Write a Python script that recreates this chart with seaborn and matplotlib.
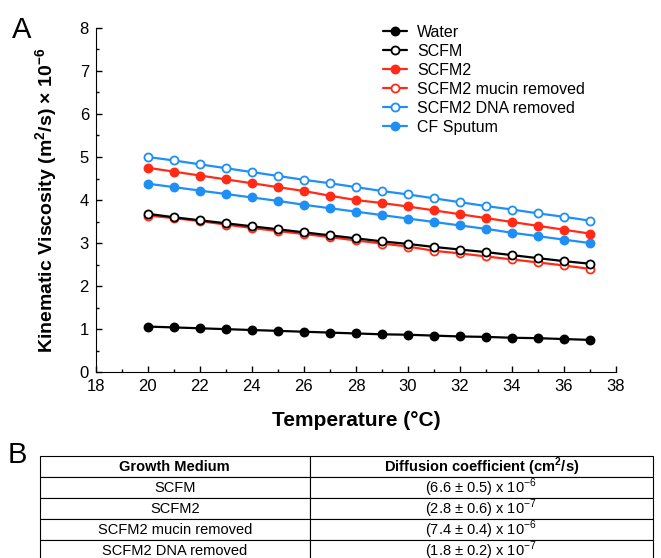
import numpy as np
import pandas as pd
import seaborn as sns
import matplotlib.pyplot as plt
from matplotlib.ticker import MultipleLocator

sns.set_style('ticks')
plt.rcParams['font.family'] = ['Liberation Sans', 'DejaVu Sans']
plt.rcParams['mathtext.fontset'] = 'custom'
plt.rcParams['mathtext.rm'] = 'Liberation Sans'
plt.rcParams['mathtext.bf'] = 'Liberation Sans:bold'
for k in ['text.color', 'axes.labelcolor', 'xtick.color', 'ytick.color', 'axes.edgecolor']:
    plt.rcParams[k] = 'black'

temps = list(range(20, 38))

water = [1.06, 1.04, 1.02, 1.00, 0.98, 0.96, 0.94, 0.92, 0.90,
         0.88, 0.87, 0.85, 0.83, 0.82, 0.80, 0.79, 0.77, 0.75]
scfm = [3.68, 3.60, 3.53, 3.46, 3.39, 3.32, 3.25, 3.18, 3.11,
        3.04, 2.98, 2.91, 2.85, 2.79, 2.72, 2.65, 2.58, 2.52]
scfm2 = [4.75, 4.66, 4.57, 4.48, 4.39, 4.30, 4.21, 4.10, 4.00,
         3.93, 3.85, 3.76, 3.67, 3.58, 3.49, 3.40, 3.31, 3.22]
scfm2_mucin = [3.64, 3.58, 3.51, 3.43, 3.35, 3.28, 3.21, 3.14, 3.06,
               2.99, 2.92, 2.82, 2.76, 2.69, 2.62, 2.55, 2.48, 2.40]
scfm2_dna = [5.00, 4.92, 4.83, 4.74, 4.65, 4.56, 4.47, 4.39, 4.30,
             4.21, 4.13, 4.04, 3.95, 3.86, 3.78, 3.69, 3.61, 3.52]
cf_sputum = [4.38, 4.30, 4.22, 4.14, 4.06, 3.98, 3.89, 3.81, 3.73,
             3.65, 3.57, 3.49, 3.41, 3.33, 3.24, 3.16, 3.08, 3.00]

series_names = ['Water', 'SCFM', 'SCFM2', 'SCFM2 mucin removed',
                'SCFM2 DNA removed', 'CF Sputum']
series_vals = [water, scfm, scfm2, scfm2_mucin, scfm2_dna, cf_sputum]

table_media = ['SCFM', 'SCFM2', 'SCFM2 mucin removed', 'SCFM2 DNA removed']
table_coef = [r'(6.6 $\pm$ 0.5) x 10$^{-6}$', r'(2.8 $\pm$ 0.6) x 10$^{-7}$',
              r'(7.4 $\pm$ 0.4) x 10$^{-6}$', r'(1.8 $\pm$ 0.2) x 10$^{-7}$']

black = '#000000'
red = '#ff2b17'
blue = '#1e90f5'
styles = {
    'Water': (black, True),
    'SCFM': (black, False),
    'SCFM2': (red, True),
    'SCFM2 mucin removed': (red, False),
    'SCFM2 DNA removed': (blue, False),
    'CF Sputum': (blue, True),
}
draw_order = ['Water', 'SCFM2 mucin removed', 'SCFM', 'CF Sputum', 'SCFM2', 'SCFM2 DNA removed']

fig = plt.figure(figsize=(6.61, 5.58), dpi=100)
ax = fig.add_axes([0.145, 0.333, 0.787, 0.617])

for name in draw_order:
    vals = series_vals[series_names.index(name)]
    df = pd.DataFrame({'T': temps, 'v': vals})
    color, filled = styles[name]
    sns.lineplot(data=df, x='T', y='v', ax=ax, color=color, lw=1.6,
                 marker='o', markersize=5.8, markeredgewidth=1.3,
                 markeredgecolor=color,
                 markerfacecolor=color if filled else 'white',
                 label=name)

h, l = ax.get_legend_handles_labels()
hd = dict(zip(l, h))
ax.legend([hd[n] for n in series_names], series_names, loc='upper left',
          bbox_to_anchor=(0.525, 1.05), frameon=False, fontsize=11.5,
          handlelength=1.5, handletextpad=0.6, labelspacing=0.25)

ax.set_xlim(18, 38)
ax.set_ylim(0, 8)
ax.xaxis.set_major_locator(MultipleLocator(2))
ax.xaxis.set_minor_locator(MultipleLocator(1))
ax.yaxis.set_major_locator(MultipleLocator(1))
ax.yaxis.set_minor_locator(MultipleLocator(0.5))
ax.tick_params(which='both', direction='in', labelsize=12, width=1, pad=5)
ax.tick_params(which='major', length=4)
ax.tick_params(which='minor', length=2.5)
sns.despine(ax=ax)
ax.set_xlabel('Temperature (°C)', fontsize=15, fontweight='bold', labelpad=12)
ax.set_ylabel(r'Kinematic Viscosity (m$^\mathbf{2}$/s) $\mathbf{\times}$ 10$^\mathbf{-6}$',
              fontsize=14, fontweight='bold', labelpad=14)

fig.text(0.018, 0.932, 'A', fontsize=21)
fig.text(0.012, 0.17, 'B', fontsize=21)

# table panel
tax = fig.add_axes([0.0605, -0.0054, 0.927, 0.188])
tax.axis('off')
cells = [[m, c] for m, c in zip(table_media, table_coef)]
tbl = tax.table(cellText=cells,
                colLabels=['Growth Medium', r'Diffusion coefficient (cm$^\mathbf{2}$/s)'],
                colWidths=[0.44, 0.56], cellLoc='center', bbox=[0, 0, 1, 1])
tbl.auto_set_font_size(False)
tbl.set_fontsize(10.5)
for (r, c), cell in tbl.get_celld().items():
    cell.set_linewidth(0.8)
    if r == 0:
        cell.get_text().set_fontweight('bold')

fig.savefig('out.png', dpi=100)
